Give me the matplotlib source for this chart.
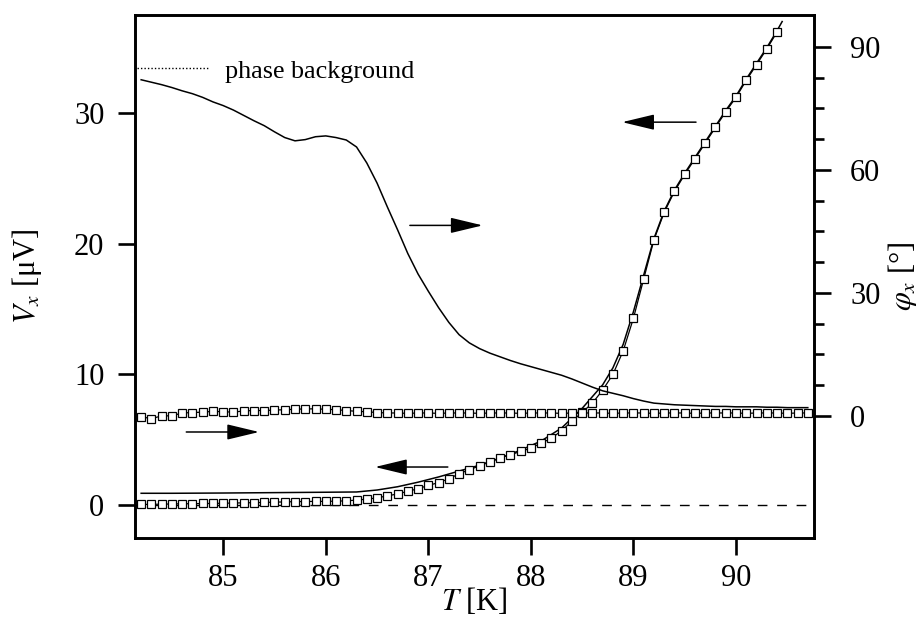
import matplotlib
matplotlib.use("Agg")
import matplotlib.pyplot as plt
from matplotlib.lines import Line2D
from matplotlib.ticker import FixedLocator

plt.rcParams['font.family'] = ['Liberation Serif', 'DejaVu Serif']
plt.rcParams['mathtext.fontset'] = 'stix'

# ---------------- data ----------------
# V_x measured with markers (left axis), 0.1 K grid
T_v = [84.2, 84.3, 84.4, 84.5, 84.6, 84.7, 84.8, 84.9, 85.0, 85.1, 85.2, 85.3,
       85.4, 85.5, 85.6, 85.7, 85.8, 85.9, 86.0, 86.1, 86.2, 86.3, 86.4, 86.5,
       86.6, 86.7, 86.8, 86.9, 87.0, 87.1, 87.2, 87.3, 87.4, 87.5, 87.6, 87.7,
       87.8, 87.9, 88.0, 88.1, 88.2, 88.3, 88.4, 88.5, 88.6, 88.7, 88.8, 88.9,
       89.0, 89.1, 89.2, 89.3, 89.4, 89.5, 89.6, 89.7, 89.8, 89.9, 90.0, 90.1,
       90.2, 90.3, 90.4]
V_markers = [0.05, 0.05, 0.07, 0.08, 0.10, 0.10, 0.12, 0.12, 0.14, 0.15, 0.17, 0.18,
             0.20, 0.22, 0.24, 0.26, 0.27, 0.28, 0.28, 0.30, 0.32, 0.38, 0.45, 0.55,
             0.70, 0.85, 1.05, 1.25, 1.50, 1.72, 2.00, 2.40, 2.70, 3.00, 3.30, 3.60,
             3.85, 4.10, 4.35, 4.75, 5.10, 5.70, 6.40, 7.10, 7.80, 8.80, 10.0, 11.8,
             14.3, 17.3, 20.3, 22.4, 24.0, 25.3, 26.5, 27.7, 28.9, 30.1, 31.2, 32.5,
             33.7, 34.9, 36.2]

# V_x solid line (left axis)
T_vline = [84.2, 84.5, 85.0, 85.5, 86.0, 86.3, 86.5, 86.7, 86.9, 87.1, 87.3, 87.5,
           87.7, 87.9, 88.1, 88.3, 88.5, 88.7, 88.8, 88.9, 89.0, 89.1, 89.2, 89.3,
           89.4, 89.5, 89.6, 89.7, 89.8, 89.9, 90.0, 90.1, 90.2, 90.3, 90.4, 90.45]
V_line = [0.90, 0.90, 0.92, 0.95, 0.98, 1.00, 1.15, 1.40, 1.75, 2.15, 2.60, 3.05,
          3.60, 4.20, 4.90, 5.90, 7.40, 9.20, 10.5, 12.3, 14.8, 17.6, 20.4, 22.5,
          24.1, 25.4, 26.6, 27.8, 29.0, 30.2, 31.3, 32.6, 33.8, 35.0, 36.3, 37.0]

# phase with markers (right axis)
T_p = [84.2, 84.3, 84.4, 84.5, 84.6, 84.7, 84.8, 84.9, 85.0, 85.1, 85.2, 85.3,
       85.4, 85.5, 85.6, 85.7, 85.8, 85.9, 86.0, 86.1, 86.2, 86.3, 86.4, 86.5,
       86.6, 86.7, 86.8, 86.9, 87.0, 87.1, 87.2, 87.3, 87.4, 87.5, 87.6, 87.7,
       87.8, 87.9, 88.0, 88.1, 88.2, 88.3, 88.4, 88.5, 88.6, 88.7, 88.8, 88.9,
       89.0, 89.1, 89.2, 89.3, 89.4, 89.5, 89.6, 89.7, 89.8, 89.9, 90.0, 90.1,
       90.2, 90.3, 90.4, 90.5, 90.6, 90.7]
phi_markers = [-0.2, -0.7, 0.0, 0.0, 0.7, 0.8, 0.9, 1.1, 1.0, 0.9, 1.2, 1.3,
               1.3, 1.4, 1.5, 1.6, 1.7, 1.7, 1.6, 1.5, 1.3, 1.1, 1.0, 0.8,
               0.7, 0.7, 0.6, 0.7, 0.7, 0.6, 0.7, 0.7, 0.7, 0.6, 0.7, 0.7,
               0.7, 0.6, 0.7, 0.7, 0.7, 0.6, 0.7, 0.7, 0.7, 0.7, 0.6, 0.7,
               0.7, 0.7, 0.6, 0.7, 0.7, 0.7, 0.6, 0.7, 0.7, 0.7, 0.7, 0.6,
               0.7, 0.7, 0.7, 0.6, 0.7, 0.7]

# phase solid line (right axis)
phi_line = [82.0, 81.4, 80.8, 80.1, 79.3, 78.6, 77.7, 76.6, 75.7, 74.6, 73.3, 72.0,
            70.8, 69.3, 67.9, 67.1, 67.4, 68.1, 68.3, 67.9, 67.3, 65.6, 61.7, 56.8,
            51.0, 45.4, 39.6, 34.6, 30.4, 26.4, 22.8, 19.8, 17.8, 16.4, 15.3, 14.4,
            13.5, 12.7, 12.0, 11.3, 10.6, 9.9, 9.0, 8.0, 7.0, 6.1, 5.5, 4.9,
            4.2, 3.6, 3.1, 2.9, 2.7, 2.6, 2.5, 2.4, 2.3, 2.3, 2.2, 2.2,
            2.2, 2.1, 2.1, 2.0, 2.0, 2.0]

x_ticks = [85, 86, 87, 88, 89, 90]
v_ticks = [0, 10, 20, 30]
phi_ticks = [0, 30, 60, 90]
phi_minor = [7.5, 15, 22.5, 37.5, 45, 52.5, 67.5, 75, 82.5]

# ---------------- figure ----------------
fig = plt.figure(figsize=(9.19, 6.2), dpi=100)
ax = fig.add_axes([0.1469, 0.1323, 0.7388, 0.8435])
ax2 = ax.twinx()

ax.set_xlim(84.14, 90.76)
ax.set_ylim(-2.52, 37.5)
ax2.set_ylim(-29.8, 97.8)

# zero line of V
ax.axhline(0, color='k', lw=1.0, ls=(0, (7, 7)), zorder=1)

ax.plot(T_vline, V_line, color='k', lw=1.1, zorder=3)
ax.plot(T_v, V_markers, color='k', lw=0.9, marker='s', ms=5.2, mfc='white',
        mec='k', mew=0.9, zorder=4)
ax2.plot(T_p, phi_line, color='k', lw=1.1, zorder=3)
ax2.plot(T_p, phi_markers, color='k', lw=0.9, marker='s', ms=5.2, mfc='white',
         mec='k', mew=0.9, zorder=4)

# arrows
ap = dict(arrowstyle='-|>,head_length=1.0,head_width=0.24', color='k', lw=1.1,
          shrinkA=0, shrinkB=0, mutation_scale=20)
ax.annotate('', xy=(87.53, 21.4), xytext=(86.82, 21.4), arrowprops=ap)
ax.annotate('', xy=(88.89, 29.3), xytext=(89.61, 29.3), arrowprops=ap)
ax.annotate('', xy=(85.35, 5.59), xytext=(84.64, 5.59), arrowprops=ap)
ax.annotate('', xy=(86.48, 2.91), xytext=(87.19, 2.91), arrowprops=ap)

# legend
h = Line2D([], [], color='k', lw=1.0, ls=(0, (1, 1.5)))
leg = ax2.legend([h], ['phase background'], loc='center left',
                 bbox_to_anchor=(0.003, 0.893), frameon=False, fontsize=18.8,
                 handlelength=2.75, handletextpad=0.62, borderpad=0, borderaxespad=0)

# spines & ticks
for a in (ax, ax2):
    for s in a.spines.values():
        s.set_linewidth(1.9)
ax.set_xticks(x_ticks)
ax.set_yticks(v_ticks)
ax2.set_yticks(phi_ticks)
ax2.yaxis.set_minor_locator(FixedLocator(phi_minor))
ax.tick_params(axis='x', direction='out', length=12, width=1.9, labelsize=22, pad=7)
ax.tick_params(axis='y', direction='out', length=12, width=1.9, labelsize=22, pad=10)
ax2.tick_params(axis='y', which='major', direction='out', length=12, width=1.9,
                labelsize=22, pad=14)
ax2.tick_params(axis='y', which='minor', direction='out', length=7, width=1.9)

ax.set_xlabel(r'$T$ [K]', fontsize=22, labelpad=-5)
ax.set_ylabel(r'$V_x$ [μV]', fontsize=22, labelpad=22)
ax2.set_ylabel(r'$\varphi_x$ [°]', fontsize=22, labelpad=4, rotation=90)

fig.savefig('out.png', dpi=100)
